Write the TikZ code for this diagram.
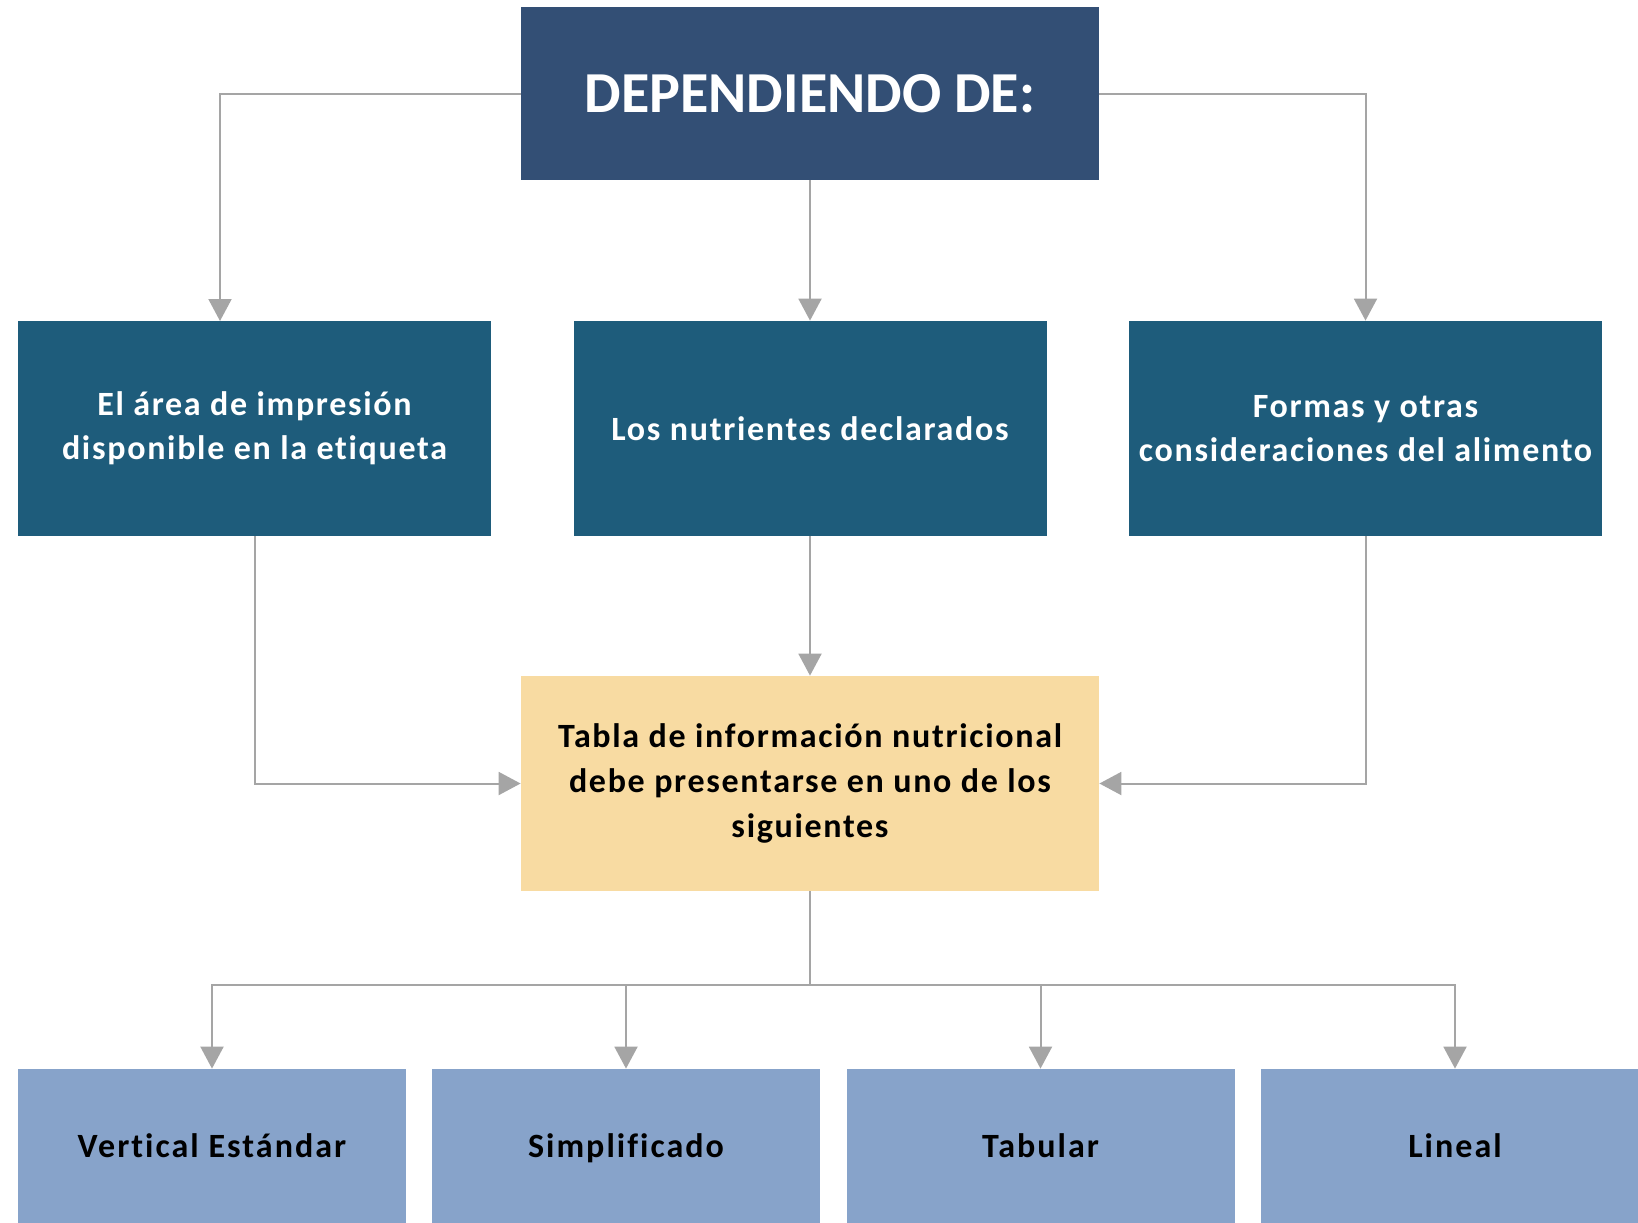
\documentclass[tikz,border=0pt]{standalone}
\usepackage{fontspec}
\setmainfont{Carlito}
\newfontfamily\spacedA{Carlito}[LetterSpace=5,Ligatures=NoCommon]
\newfontfamily\spacedB{Carlito}[LetterSpace=6,Ligatures=NoCommon]
\usetikzlibrary{arrows.meta}
\definecolor{topblue}{HTML}{334F75}
\definecolor{midblue}{HTML}{1E5C7B}
\definecolor{tabyellow}{HTML}{F8DBA2}
\definecolor{lowblue}{HTML}{87A3CA}
\definecolor{conngray}{HTML}{A5A5A5}
\begin{document}
\begin{tikzpicture}[x=0.5pt,y=-0.5pt,
  boxbase/.style={rectangle, inner sep=0pt, align=center},
  topbox/.style={boxbase, fill=topblue, text=white, minimum width=289pt, minimum height=86.5pt, font=\bfseries\fontsize{29}{34}\selectfont},
  midbox/.style={boxbase, fill=midblue, text=white, minimum width=236.5pt, minimum height=107.5pt, font=\spacedA\bfseries\fontsize{17}{22}\selectfont},
  tabbox/.style={boxbase, fill=tabyellow, text=black, minimum width=289pt, minimum height=107.5pt, font=\spacedA\bfseries\fontsize{17}{22.5}\selectfont},
  lowbox/.style={boxbase, fill=lowblue, text=black, minimum width=194pt, minimum height=77.5pt, text height=12pt, text depth=1pt, font=\spacedB\bfseries\fontsize{17}{20}\selectfont},
  conn/.style={draw=conngray, line width=1pt},
  arr/.style={conn, -{Triangle[width=11.5pt,length=11pt]}, color=conngray}
]
\useasboundingbox (0,0) rectangle (1638,1222);
\clip (0,0) rectangle (1638,1222);
\fill[white] (0,0) rectangle (1638,1222);

\node[topbox] (top) at (810,93.5) {DEPENDIENDO DE:};
\node[midbox] (lb) at (254.5,428.5) {El área de impresión\\disponible en la etiqueta};
\node[midbox] (mb) at (810,428.5) {Los nutrientes declarados};
\node[midbox] (rb) at (1365.5,428.5) {Formas y otras\\consideraciones del alimento};
\node[tabbox] (tab) at (810,783.5) {Tabla de información nutricional\\debe presentarse en uno de los\\siguientes};
\node[lowbox] (b1) at (212,1146.5) {Vertical Estándar};
\node[lowbox] (b2) at (626,1146.5) {Simplificado};
\node[lowbox] (b3) at (1040.5,1146.5) {Tabular};
\node[lowbox] (b4) at (1455,1146.5) {Lineal};

\coordinate (lbin) at (220,321);
\coordinate (j) at (810,985);

\draw[arr] (top.west) -| (lbin);
\draw[arr] (top.south) -- (mb.north);
\draw[arr] (top.east) -| (rb.north);
\draw[arr] (lb.south) |- (tab.west);
\draw[arr] (mb.south) -- (tab.north);
\draw[arr] (rb.south) |- (tab.east);
\draw[conn] (tab.south) -- (j);
\draw[arr] (j) -| (b1.north);
\draw[arr] (j) -| (b2.north);
\draw[arr] (j) -| (b3.north);
\draw[arr] (j) -| (b4.north);
\end{tikzpicture}
\end{document}
